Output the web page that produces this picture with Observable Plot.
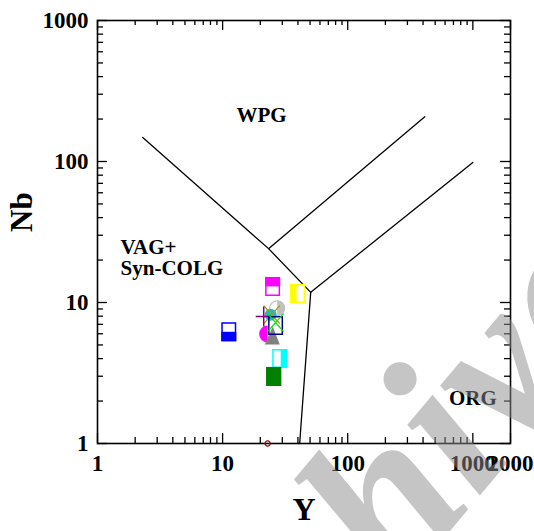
<!DOCTYPE html>
<html>
<head>
<meta charset="utf-8">
<script src="https://cdn.jsdelivr.net/npm/d3@7"></script>
<script src="https://cdn.jsdelivr.net/npm/@observablehq/plot@0.6"></script>
<style>
  html, body { margin: 0; padding: 0; background: #fff; }
  #chart svg text { font-weight: bold; }
</style>
</head>
<body>
<div id="chart"></div>
<script>
// Nb–Y tectonic discrimination diagram for granites (Pearce et al., 1984)

// Samples: Y (ppm) and Nb (ppm)
const sampleIds = ["s01", "s02", "s03", "s04", "s05", "s06", "s07", "s08", "s09", "s10", "s11", "s12", "s13", "s14"];
const yValues   = [25.1, 39.8, 27.3, 24.2, 21.3, 24.7, 26.5, 26.5, 22.9, 24.7, 11.2, 28.6, 25.6, 22.9];
const nbValues  = [13.0, 11.6, 9.1, 8.2, 7.95, 8.2, 7.2, 6.87, 5.98, 5.74, 6.2, 4.0, 2.99, 1.0];

// Field boundaries (each list is one polyline)
const boundaryY  = [[2.3, 23.3, 50.6], [23.3, 413], [50.6, 1000], [50.6, 41.3]];
const boundaryNb = [[148, 24.1, 11.8], [24.1, 208], [11.8, 98.4], [11.8, 1]];

// Field names and where they sit
const centredFields = ["WPG", "ORG"];
const centredY      = [20.5, 1000];
const centredNb     = [212, 2.08];
const leftFields    = ["VAG+", "Syn-COLG"];
const leftY         = [1.53, 1.53];
const leftNb        = [24.6, 17.4];

// Axis ticks
const xMajor = [1, 10, 100, 1000, 2000];
const yMajor = [1, 10, 100, 1000];
const xMinor = [1, 10, 100].flatMap(d => [2, 3, 4, 5, 6, 7, 8, 9].map(k => k * d));
const yMinor = [1, 10, 100].flatMap(d => [2, 3, 4, 5, 6, 7, 8, 9].map(k => k * d));

// ---- marker shapes (pixel units, centred on the point) ----
const poly = pts => ({draw(ctx) { ctx.moveTo(...pts[0]); for (const p of pts.slice(1)) ctx.lineTo(...p); ctx.closePath(); }});
const rectShape = (x0, y0, x1, y1) => poly([[x0, y0], [x1, y0], [x1, y1], [x0, y1]]);
const BW = 7.5, BH = 9.5;
const boxFull   = rectShape(-BW, -BH, BW, BH);
const boxLine   = rectShape(-BW + 0.75, -BH + 0.75, BW - 0.75, BH - 0.75);
const boxTop    = rectShape(-BW, -BH, BW, 0);
const boxBottom = rectShape(-BW, 0, BW, BH);
const boxLeft   = rectShape(-BW, -BH, -1, BH);
const boxRight  = rectShape(1, -BH, BW, BH);
const circle = R => ({draw(ctx) { ctx.moveTo(R, 0); ctx.arc(0, 0, R, 0, 2 * Math.PI); }});
const halfCircleRight = R => ({draw(ctx) { ctx.moveTo(0, -R); ctx.arc(0, 0, R, -Math.PI / 2, Math.PI / 2); ctx.closePath(); }});
const halfCircleLeft = R => ({draw(ctx) { ctx.moveTo(0, -R); ctx.arc(0, 0, R, -Math.PI / 2, Math.PI / 2, true); ctx.closePath(); }});
const triangle = poly([[1, -10], [8, 8], [-7, 8]]);
const plus = {draw(ctx) { ctx.moveTo(-8, 0); ctx.lineTo(8, 0); ctx.moveTo(0, -10); ctx.lineTo(0, 10); }};
const cross = {draw(ctx) { ctx.moveTo(-8, -9); ctx.lineTo(8, 9); ctx.moveTo(8, -9); ctx.lineTo(-8, 9); }};

const sample = id => {
  const i = sampleIds.indexOf(id);
  return [{Y: yValues[i], Nb: nbValues[i]}];
};
const dot = (id, symbol, opts) => Plot.dot(sample(id), {x: "Y", y: "Nb", r: 5, symbol, ...opts});

// a rectangular marker: white body, a coloured part, and a coloured outline
const boxMarker = (id, part, color) => [
  dot(id, boxFull, {fill: "white", stroke: "none"}),
  dot(id, part, {fill: color, stroke: "none"}),
  dot(id, boxLine, {fill: "none", stroke: color, strokeWidth: 1.5})
];

const boundaryRows = boundaryY.flatMap((ys, k) => ys.map((y, j) => ({seg: k, Y: y, Nb: boundaryNb[k][j]})));
const centredRows = centredFields.map((name, i) => ({name, Y: centredY[i], Nb: centredNb[i]}));
const leftRows = leftFields.map((name, i) => ({name, Y: leftY[i], Nb: leftNb[i]}));

// inward tick marks: the frame is 413 px wide and 423 px tall
const FW = 413, FH = 423;
const tick = {stroke: "black", strokeWidth: 1.3};

const chart = Plot.plot({
  width: 534,
  height: 531,
  marginLeft: 97,
  marginRight: 24,
  marginTop: 20,
  marginBottom: 88,
  style: {fontFamily: "'Liberation Serif', 'Times New Roman', serif", fontSize: "23px", background: "white", color: "black"},
  x: {type: "log", domain: [1, 2000], axis: null},
  y: {type: "log", domain: [1, 1000], axis: null},
  marks: [
    // ticks on all four sides, pointing inward
    Plot.tickX(xMajor, {x: d => d, insetTop: FH - 10, ...tick}),
    Plot.tickX(xMinor, {x: d => d, insetTop: FH - 6, ...tick}),
    Plot.tickX(xMajor, {x: d => d, insetBottom: FH - 10, ...tick}),
    Plot.tickX(xMinor, {x: d => d, insetBottom: FH - 5, ...tick}),
    Plot.tickY(yMajor, {y: d => d, insetRight: FW - 10, ...tick}),
    Plot.tickY(yMinor, {y: d => d, insetRight: FW - 6, ...tick}),
    Plot.tickY(yMajor, {y: d => d, insetLeft: FW - 10, ...tick}),
    Plot.tickY(yMinor, {y: d => d, insetLeft: FW - 6, ...tick}),
    // tick labels
    Plot.text(xMajor, {x: d => d, frameAnchor: "bottom", dy: 27, text: d => String(d), fontSize: 23, fill: "black"}),
    Plot.text(yMajor, {y: d => d, frameAnchor: "left", dx: -9, textAnchor: "end", text: d => String(d), fontSize: 23, fill: "black"}),
    Plot.frame({stroke: "black", strokeWidth: 1.6}),

    // field boundaries
    Plot.line(boundaryRows, {x: "Y", y: "Nb", z: "seg", stroke: "black", strokeWidth: 1.3}),
    Plot.text(centredRows, {x: "Y", y: "Nb", text: "name", fontSize: 21, fill: "black"}),
    Plot.text(leftRows, {x: "Y", y: "Nb", text: "name", textAnchor: "start", fontSize: 21, fill: "black"}),

    // samples
    ...boxMarker("s01", boxTop, "#ff00ff"),
    ...boxMarker("s02", boxLeft, "#ffff00"),
    ...boxMarker("s11", boxBottom, "#0000ff"),
    ...boxMarker("s12", boxRight, "#00ffff"),
    ...boxMarker("s13", boxFull, "#008000"),
    dot("s09", halfCircleLeft(8.5), {fill: "#ff00ff", stroke: "none"}),
    dot("s10", triangle, {fill: "#808080", stroke: "none"}),
    dot("s03", circle(7.5), {fill: "white", stroke: "#c0c0c0", strokeWidth: 1.2}),
    dot("s03", halfCircleRight(7.5), {fill: "#c0c0c0", stroke: "none"}),
    dot("s04", circle(6), {fill: "#20b8c8", stroke: "none"}),
    dot("s06", cross, {fill: "none", stroke: "#a0a000", strokeWidth: 1.3}),
    dot("s05", plus, {fill: "none", stroke: "#800080", strokeWidth: 1.5}),
    dot("s08", boxLine, {fill: "none", stroke: "#000080", strokeWidth: 1.5}),
    dot("s07", cross, {fill: "none", stroke: "#00e000", strokeWidth: 1.2}),
    dot("s14", circle(2.6), {fill: "none", stroke: "#a00000", strokeWidth: 1.2}),

    // axis titles
    Plot.text(["Y"], {frameAnchor: "bottom", dy: 76, fontSize: 32, fill: "black"}),
    Plot.text(["Nb"], {frameAnchor: "left", dx: -75, rotate: -90, fontSize: 31, fill: "black"}),

    // watermark
    Plot.text(["hive"], {frameAnchor: "bottom-left", dx: 300, dy: 150, rotate: -50, textAnchor: "start",
      fontSize: 220, fontStyle: "italic", fill: "#8c8c8c", fillOpacity: 0.5})
  ]
});

document.getElementById("chart").append(chart);
</script>
</body>
</html>
